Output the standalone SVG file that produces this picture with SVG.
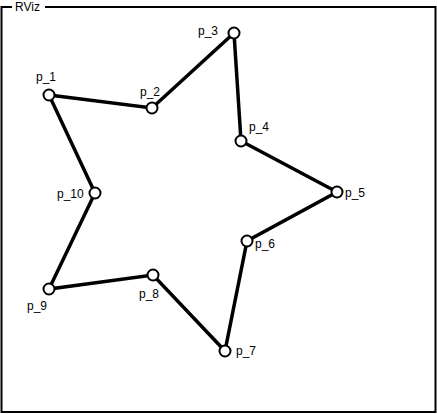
<svg xmlns="http://www.w3.org/2000/svg" width="437" height="414" viewBox="0 0 437 414">
<style>
.frame{fill:none;stroke:#000;stroke-width:2}
.edge{stroke:#000;stroke-width:3.5;stroke-linecap:round;fill:none}
.pt{fill:#fff;stroke:#000;stroke-width:2}
text{font-family:"Liberation Sans",Arial,sans-serif;font-size:12px;fill:#000}
</style>
<rect width="437" height="414" fill="#fff"/>
<g id="frame">
<rect class="frame" x="1.5" y="7" width="434" height="405"/>
<rect x="12" y="0" width="33" height="13" fill="#fff"/>
<text x="15" y="11">RViz</text>
</g>
<g id="connectors">
<polygon class="edge" points="49,95 152,108 234,33 241,141 337,192 247,241 225,351 153,275 49,289 95,193"/>
</g>
<g id="p_1"><circle class="pt" cx="49" cy="95" r="5.5"/><text x="36" y="81">p_1</text></g>
<g id="p_2"><circle class="pt" cx="152" cy="108" r="5.5"/><text x="140" y="96">p_2</text></g>
<g id="p_3"><circle class="pt" cx="234" cy="33" r="5.5"/><text x="198" y="35">p_3</text></g>
<g id="p_4"><circle class="pt" cx="241" cy="141" r="5.5"/><text x="249" y="131">p_4</text></g>
<g id="p_5"><circle class="pt" cx="337" cy="192" r="5.5"/><text x="345" y="197">p_5</text></g>
<g id="p_6"><circle class="pt" cx="247" cy="241" r="5.5"/><text x="255" y="248">p_6</text></g>
<g id="p_7"><circle class="pt" cx="225" cy="351" r="5.5"/><text x="236" y="355">p_7</text></g>
<g id="p_8"><circle class="pt" cx="153" cy="275" r="5.5"/><text x="139" y="298">p_8</text></g>
<g id="p_9"><circle class="pt" cx="49" cy="289" r="5.5"/><text x="27" y="310">p_9</text></g>
<g id="p_10"><circle class="pt" cx="95" cy="193" r="5.5"/><text x="57" y="198">p_10</text></g>
</svg>
